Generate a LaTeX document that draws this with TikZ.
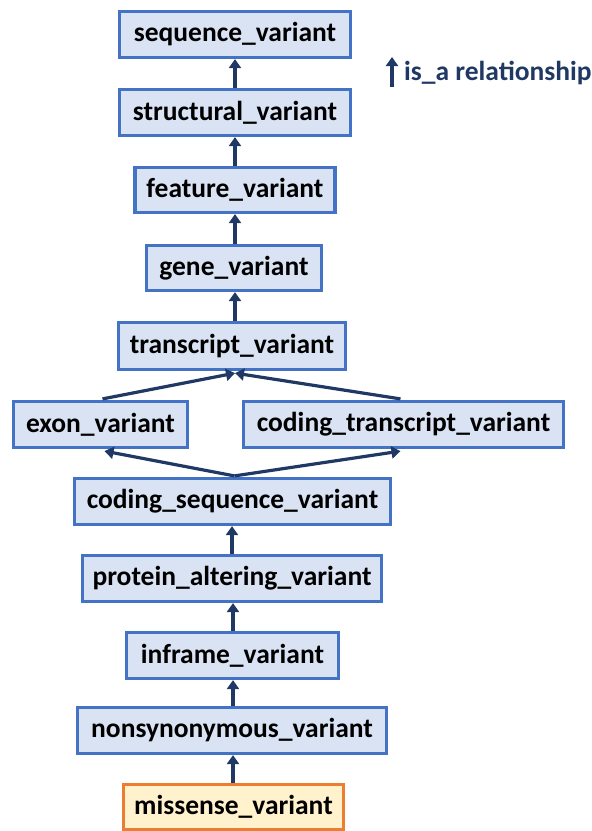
\documentclass[tikz,border=0pt]{standalone}
\usepackage{fontspec}
\setmainfont{Carlito}
\usetikzlibrary{arrows.meta}
\definecolor{boxfill}{HTML}{DAE3F3}
\definecolor{boxdraw}{HTML}{4472C4}
\definecolor{hifill}{HTML}{FFF2CC}
\definecolor{hidraw}{HTML}{ED7D31}
\definecolor{arrowc}{HTML}{203864}
\tikzset{
  term/.style={draw=boxdraw, fill=boxfill, line width=3.2pt, inner sep=0pt,
    minimum height=46pt, font=\fontsize{27.5}{32}\selectfont\bfseries, text=black},
  hiterm/.style={term, draw=hidraw, fill=hifill},
  isa/.style={draw=arrowc, line width=3.2pt, -{Triangle[width=12pt,length=9pt]}},
}
\begin{document}
\begin{tikzpicture}[x=1pt,y=-1pt]
\useasboundingbox (0,0) rectangle (592,831);
\node[term, minimum width=231pt] (seq) at (235,34.5) {sequence\_variant};
\node[term, minimum width=231pt] (struct) at (235,112.5) {structural\_variant};
\node[term, minimum width=200pt, minimum height=45pt] (feat) at (235,190) {feature\_variant};
\node[term, minimum width=175pt, minimum height=45pt] (gene) at (234,268) {gene\_variant};
\node[term, minimum width=227pt, minimum height=47pt] (tx) at (232,346) {transcript\_variant};
\node[term, minimum width=174pt] (exon) at (100.5,424.5) {exon\_variant};
\node[term, minimum width=320pt] (ctv) at (403.5,424.5) {coding\_transcript\_variant};
\node[term, minimum width=316pt] (csv) at (232.5,501.5) {coding\_sequence\_variant};
\node[term, minimum width=299pt] (pav) at (232,578.5) {protein\_altering\_variant};
\node[term, minimum width=212pt] (inf) at (232.5,655.5) {inframe\_variant};
\node[term, minimum width=309pt] (nonsyn) at (232,730.5) {nonsynonymous\_variant};
\node[hiterm, minimum width=220pt, minimum height=45pt] (mis) at (233.5,807) {missense\_variant};
\coordinate (txin) at ([xshift=3pt,yshift=-2pt]tx.south);
\coordinate (csvout) at ([xshift=2pt,yshift=1pt]csv.north);
\coordinate (exin) at ([xshift=4pt,yshift=-2pt]exon.south);
\coordinate (exout) at ([xshift=2pt,yshift=1pt]exon.north);
\coordinate (ctvin) at ([xshift=-3pt,yshift=-2pt]ctv.south);
\coordinate (ctvout) at ([xshift=-3pt,yshift=1pt]ctv.north);
\draw[isa] (struct.north) -- (seq.south);
\draw[isa] (feat.north) -- (feat.north |- struct.south);
\draw[isa] ([xshift=1pt]gene.north) -- ([xshift=1pt]gene.north |- feat.south);
\draw[isa] ([xshift=1pt]gene.north |- tx.north) -- ([xshift=1pt]gene.south);
\draw[isa] (exout) -- (txin);
\draw[isa] (ctvout) -- (txin);
\draw[isa] (csvout) -- (exin);
\draw[isa] (csvout) -- (ctvin);
\draw[isa] (pav.north) -- (pav.north |- csv.south);
\draw[isa] ([xshift=0.5pt]inf.north) -- ([xshift=0.5pt]inf.north |- pav.south);
\draw[isa] ([xshift=1pt]nonsyn.north) -- ([xshift=1pt]nonsyn.north |- inf.south);
\draw[isa] ([xshift=-0.5pt]mis.north) -- ([xshift=-0.5pt]mis.north |- nonsyn.south);
\coordinate (lgb) at (392,87);
\coordinate (lgt) at (392,57);
\draw[isa] (lgb) -- (lgt);
\node[anchor=west, inner sep=0pt, text=arrowc, font=\fontsize{27.5}{32}\selectfont\bfseries] (legend) at (404,73) {is\_a relationship};
\end{tikzpicture}
\end{document}
